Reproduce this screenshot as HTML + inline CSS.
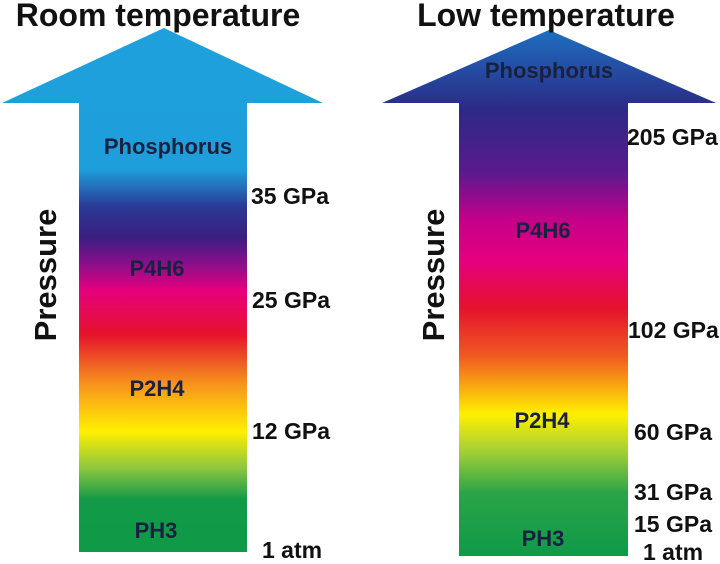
<!DOCTYPE html>
<html><head><meta charset="utf-8"><style>
html,body{margin:0;padding:0;background:#fff;}
svg{display:block;}
text{font-family:"Liberation Sans",Arial,sans-serif;font-weight:bold;}
</style></head><body>
<svg width="720" height="564" viewBox="0 0 720 564" xmlns="http://www.w3.org/2000/svg">
<defs>
<linearGradient id="gl" gradientUnits="userSpaceOnUse" x1="0" y1="28" x2="0" y2="552">
<stop offset="0" stop-color="#1ea0dc"/>
<stop offset="0.27" stop-color="#1e9fdb"/>
<stop offset="0.34" stop-color="#2a3a96"/>
<stop offset="0.40" stop-color="#3a1e80"/>
<stop offset="0.45" stop-color="#8a0f8a"/>
<stop offset="0.50" stop-color="#e5007e"/>
<stop offset="0.585" stop-color="#e5132c"/>
<stop offset="0.68" stop-color="#f7941d"/>
<stop offset="0.77" stop-color="#fff000"/>
<stop offset="0.84" stop-color="#8dc63f"/>
<stop offset="0.90" stop-color="#129a48"/>
<stop offset="1" stop-color="#0f9a48"/>
</linearGradient>
<linearGradient id="gr" gradientUnits="userSpaceOnUse" x1="0" y1="30" x2="0" y2="556">
<stop offset="0" stop-color="#1e6fc0"/>
<stop offset="0.15" stop-color="#2b2a86"/>
<stop offset="0.27" stop-color="#5a1a8e"/>
<stop offset="0.36" stop-color="#c4008a"/>
<stop offset="0.44" stop-color="#e5007e"/>
<stop offset="0.53" stop-color="#e5132c"/>
<stop offset="0.62" stop-color="#f05a22"/>
<stop offset="0.73" stop-color="#fff000"/>
<stop offset="0.80" stop-color="#a5d036"/>
<stop offset="0.88" stop-color="#2aa448"/>
<stop offset="1" stop-color="#0f9a48"/>
</linearGradient>
</defs>
<polygon points="164,28 323,103 247,103 247,552 79,552 79,103 2,103" fill="url(#gl)"/>
<polygon points="549,30 716,103 628,103 628,556 459,556 459,103 382,103" fill="url(#gr)"/>

<text x="158" y="26" font-size="32" text-anchor="middle" fill="#111">Room temperature</text>
<text x="546" y="26" font-size="32" text-anchor="middle" fill="#111">Low temperature</text>

<text transform="translate(56,275) rotate(-90)" font-size="31" text-anchor="middle" fill="#111">Pressure</text>
<text transform="translate(444,275) rotate(-90)" font-size="31" text-anchor="middle" fill="#111">Pressure</text>

<g font-size="22" text-anchor="middle" fill="#1a2040">
<text x="168" y="154">Phosphorus</text>
<text x="157" y="276">P4H6</text>
<text x="157" y="396">P2H4</text>
<text x="156" y="538">PH3</text>
<text x="549" y="78">Phosphorus</text>
<text x="543" y="238">P4H6</text>
<text x="542" y="428">P2H4</text>
<text x="543" y="546">PH3</text>
</g>
<g font-size="23" fill="#111">
<text x="251" y="204">35 GPa</text>
<text x="252" y="308">25 GPa</text>
<text x="252" y="439">12 GPa</text>
<text x="262" y="558">1 atm</text>
<text x="627" y="145">205 GPa</text>
<text x="628" y="338">102 GPa</text>
<text x="634" y="440">60 GPa</text>
<text x="634" y="500">31 GPa</text>
<text x="634" y="532">15 GPa</text>
<text x="643" y="560">1 atm</text>
</g>
</svg>
</body></html>
